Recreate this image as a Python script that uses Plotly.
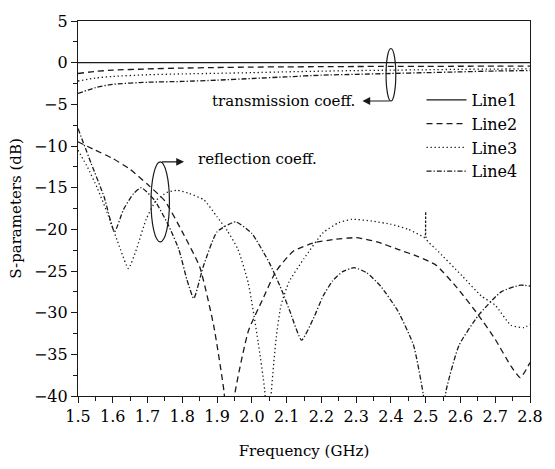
import plotly.graph_objects as go

# ---------------- data ----------------
freq_t = [1.5, 1.55, 1.6, 1.7, 1.8, 1.9, 2.0, 2.1, 2.2, 2.3, 2.4, 2.5, 2.6, 2.7, 2.8]
line1_t = [0, 0, 0, 0, 0, 0, 0, 0, 0, 0, 0, 0, 0, 0, 0]
line2_t = [-1.3, -1.05, -0.9, -0.75, -0.65, -0.58, -0.53, -0.5, -0.48, -0.46, -0.45, -0.44, -0.43, -0.42, -0.42]
line3_t = [-2.2, -1.85, -1.65, -1.45, -1.35, -1.28, -1.2, -1.1, -1.02, -0.95, -0.9, -0.85, -0.8, -0.77, -0.74]
line4_t = [-3.7, -3.0, -2.6, -2.35, -2.25, -2.1, -1.9, -1.7, -1.5, -1.4, -1.3, -1.2, -1.1, -1.0, -0.95]

line2_rx = [1.5, 1.55, 1.6, 1.65, 1.7, 1.75, 1.8, 1.85, 1.89, 1.92, 1.935, 1.95, 1.99, 2.03, 2.07,
            2.12, 2.18, 2.24, 2.3, 2.36, 2.42, 2.48, 2.53, 2.59, 2.65, 2.7, 2.745, 2.772, 2.8]
line2_ry = [-9.5, -10.5, -11.5, -12.8, -14.6, -16.6, -20.3, -24.5, -31.5, -39.5, -48, -40, -32.2, -28.5, -25,
            -22.6, -21.6, -21.2, -21.0, -21.5, -22.4, -23.3, -24.3, -27, -30.2, -33.2, -36.4, -37.8, -36.0]

line3_rx = [1.5, 1.528, 1.555, 1.584, 1.622, 1.645, 1.668, 1.696, 1.725, 1.755, 1.785, 1.82, 1.863, 1.9,
            1.93, 1.96, 1.99, 2.018, 2.037, 2.046, 2.055, 2.07, 2.084, 2.107, 2.15, 2.205, 2.25, 2.288,
            2.344, 2.4, 2.45, 2.493, 2.498, 2.5, 2.502, 2.53, 2.605, 2.66, 2.7, 2.745, 2.783, 2.8]
line3_ry = [-10.5, -12.6, -15, -18, -22.4, -24.7, -22.4, -18.8, -16.5, -15.6, -15.3, -15.7, -16.5, -18.5,
            -20.2, -22.4, -26.5, -33.5, -39.3, -46, -40, -33, -29.1, -26.3, -23.5, -20.4, -19.2, -18.8,
            -19.0, -19.4, -20.0, -20.9, -21.0, -17.9, -21.2, -22.4, -25.6, -28, -29.1, -31.5, -31.8, -31.4]

line4_rx = [1.5, 1.538, 1.575, 1.605, 1.631, 1.66, 1.682, 1.72, 1.76, 1.79, 1.813, 1.833, 1.86, 1.9,
            1.953, 2.0, 2.05, 2.084, 2.11, 2.143, 2.177, 2.205, 2.232, 2.26, 2.294, 2.33, 2.37, 2.42,
            2.465, 2.493, 2.51, 2.525, 2.54, 2.559, 2.596, 2.652, 2.717, 2.772, 2.8]
line4_ry = [-7.9, -12.1, -16.1, -20.3, -17.6, -15.7, -15.0, -16.5, -19.5, -22.4, -26, -28.3, -24.5, -20.3,
            -19.1, -20.5, -24, -27.1, -29.9, -33.3, -30.7, -28.0, -26.2, -25.1, -24.6, -25.2, -26.8, -29.8,
            -33.9, -39.8, -46, -50, -46, -39.3, -33.9, -30.3, -27.5, -26.7, -26.8]

names = ["Line1", "Line2", "Line3", "Line4"]
trans = [line1_t, line2_t, line3_t, line4_t]
refl = [None, (line2_rx, line2_ry), (line3_rx, line3_ry), (line4_rx, line4_ry)]
dashes = ["solid", "6px,4px", "1.3px,2.7px", "5px,2px,1.3px,2px"]

x_ticks = [1.5, 1.6, 1.7, 1.8, 1.9, 2.0, 2.1, 2.2, 2.3, 2.4, 2.5, 2.6, 2.7, 2.8]
y_ticks = [5, 0, -5, -10, -15, -20, -25, -30, -35, -40]

FONT = "DejaVu Serif"
INK = "#1a1a1a"

fig = go.Figure()
for name, t, r, d in zip(names, trans, refl, dashes):
    fig.add_trace(go.Scatter(x=freq_t, y=t, mode="lines", name=name, legendgroup=name,
                             line=dict(color=INK, width=1.3, dash=d, shape="spline", smoothing=0.6)))
    if r is not None:
        fig.add_trace(go.Scatter(x=r[0], y=r[1], mode="lines", name=name, legendgroup=name,
                                 showlegend=False,
                                 line=dict(color=INK, width=1.3, dash=d, shape="spline", smoothing=0.5)))

# ellipses marking the curve groups
fig.add_shape(type="circle", xref="x", yref="y", x0=2.386, x1=2.414, y0=-4.6, y1=1.7,
              line=dict(color=INK, width=1.2))
fig.add_shape(type="circle", xref="x", yref="y", x0=1.71, x1=1.763, y0=-21.5, y1=-11.9,
              line=dict(color=INK, width=1.2))

# arrows
fig.add_annotation(x=2.318, y=-4.6, ax=2.4, ay=-4.6, xref="x", yref="y", axref="x", ayref="y",
                   showarrow=True, arrowhead=2, arrowsize=1.3, arrowwidth=1.2, arrowcolor=INK, text="")
fig.add_annotation(x=1.805, y=-11.9, ax=1.737, ay=-11.9, xref="x", yref="y", axref="x", ayref="y",
                   showarrow=True, arrowhead=2, arrowsize=1.3, arrowwidth=1.2, arrowcolor=INK, text="")

fig.add_annotation(x=2.302, y=-4.6, xref="x", yref="y", text="transmission coeff.", showarrow=False,
                   xanchor="right", yanchor="middle", font=dict(family=FONT, size=15, color="#000"))
fig.add_annotation(x=1.84, y=-11.5, xref="x", yref="y", text="reflection coeff.", showarrow=False,
                   xanchor="left", yanchor="middle", font=dict(family=FONT, size=15, color="#000"))

fig.update_layout(
    width=555, height=469,
    margin=dict(l=78, r=12, t=19, b=70),
    paper_bgcolor="white", plot_bgcolor="white",
    font=dict(family=FONT, size=15, color="#000"),
    legend=dict(x=0.76, y=0.835, xanchor="left", yanchor="top", bgcolor="rgba(0,0,0,0)",
                font=dict(family=FONT, size=16), tracegroupgap=0, itemwidth=40),
    showlegend=True,
)
fig.update_xaxes(range=[1.5, 2.8], tickvals=x_ticks, ticktext=[f"{v:.1f}" for v in x_ticks],
                 ticks="outside", ticklen=6, tickwidth=1.2, tickcolor=INK,
                 minor=dict(dtick=0.05, ticks="outside", ticklen=4, tickwidth=1.2, tickcolor=INK),
                 showline=True, linecolor=INK, linewidth=1.2, mirror=True, showgrid=False, zeroline=False,
                 title=dict(text="Frequency (GHz)", font=dict(family=FONT, size=15), standoff=20),
                 tickfont=dict(family=FONT, size=16))
fig.update_yaxes(range=[-40, 5], tickvals=y_ticks, ticks="outside", ticklen=6, tickwidth=1.2, tickcolor=INK,
                 minor=dict(dtick=2.5, ticks="outside", ticklen=4, tickwidth=1.2, tickcolor=INK),
                 showline=True, linecolor=INK, linewidth=1.2, mirror=True, showgrid=False, zeroline=False,
                 title=dict(text="S-parameters (dB)", font=dict(family=FONT, size=15), standoff=8),
                 tickfont=dict(family=FONT, size=16))

fig.write_html("out.html")
